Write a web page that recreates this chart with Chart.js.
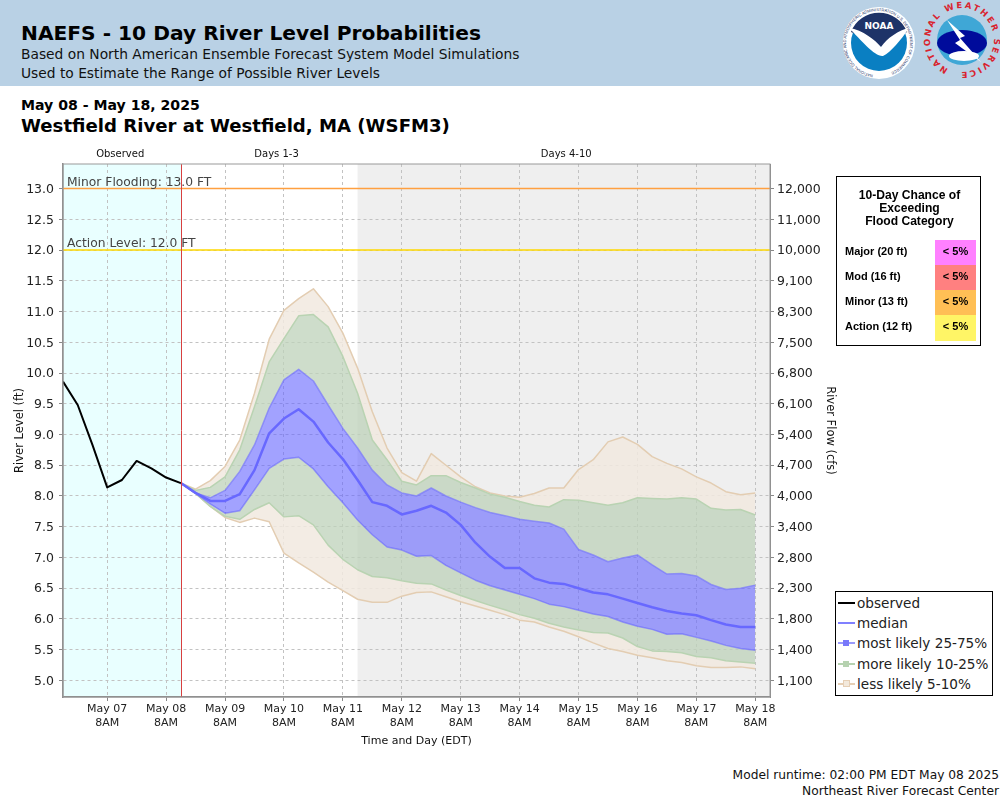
<!DOCTYPE html>
<html><head><meta charset="utf-8">
<script src="https://cdn.jsdelivr.net/npm/chart.js@4"></script>
<style>
html,body{margin:0;padding:0;background:#fff;font-family:"DejaVu Sans",sans-serif;color:#000}
#wrap{position:relative;width:1000px;height:800px;overflow:hidden}
#hdr{position:absolute;left:0;top:0;width:1000px;height:86px;background:#B9D1E5}
.t{position:absolute;white-space:nowrap}
canvas{position:absolute;left:0;top:0}
#prob{position:absolute;left:836px;top:176px;width:143px;height:168px;border:1px solid #000;background:#fff;font-family:"Liberation Sans",sans-serif;font-weight:bold;font-size:11.5px}
#prob .h{position:absolute;left:0;width:145px;text-align:center;font-size:12.1px;line-height:13px;top:12px}
#prob .r{position:absolute;left:8px;white-space:nowrap;font-size:11px}
#prob .c{position:absolute;left:98px;width:41px;height:25px;text-align:center;line-height:22px;font-size:11px}
#leg{position:absolute;left:835px;top:591px;width:156px;height:103px;border:1px solid #000;background:#fff;font-size:13.6px;color:#222}
#leg .l{position:absolute;left:21px;white-space:nowrap;line-height:20px}
#leg .s{position:absolute;left:2px;width:17px;height:2px}
#leg .b{position:absolute;left:7px;width:6px;height:6px}
</style></head><body>
<div id="wrap">
<div id="hdr"></div>
<div class="t" style="left:21px;top:21px;font-weight:bold;font-size:20.2px">NAEFS - 10 Day River Level Probabilities</div>
<div class="t" style="left:21px;top:46px;font-size:13.8px;color:#111">Based on North American Ensemble Forecast System Model Simulations</div>
<div class="t" style="left:21px;top:65px;font-size:13.8px;color:#111">Used to Estimate the Range of Possible River Levels</div>
<div class="t" style="left:21px;top:97px;font-weight:bold;font-size:14.1px">May 08 - May 18, 2025</div>
<div class="t" style="left:21px;top:115px;font-weight:bold;font-size:18.13px">Westfield River at Westfield, MA (WSFM3)</div>
<div class="t" style="right:1px;top:768px;font-size:12.25px;color:#111">Model runtime: 02:00 PM EDT May 08 2025</div>
<div class="t" style="right:1px;top:784px;font-size:12.25px;color:#111">Northeast River Forecast Center</div>
<svg style="position:absolute;left:835px;top:0" width="165" height="85" viewBox="0 0 165 85">
<defs><path id="ring1" d="M43 75 A32 32 0 1 1 43.1 75"/><path id="ring2" d="M127 72 A32 32 0 1 1 127.1 72"/></defs>
<circle cx="44" cy="43" r="36" fill="#fff"/>
<circle cx="44" cy="43" r="28" fill="#0A7FC2"/>
<path d="M16 32 A30 30 0 0 1 72 32 L46 47 C36 41 26 36 16 32Z" fill="#1E3368"/>
<path d="M14 28 C28 30 40 40 46 47 C52 38 64 30 74 28 C66 40 56 52 48 56 C40 57 26 40 14 28Z" fill="#fff"/>
<text x="44" y="29" text-anchor="middle" font-size="9" font-weight="bold" fill="#fff" font-family="DejaVu Sans">NOAA</text>
<text font-size="4" fill="#1E3368" font-family="Liberation Sans"><textPath href="#ring1" startOffset="5">NATIONAL OCEANIC AND ATMOSPHERIC ADMINISTRATION U.S. DEPARTMENT OF COMMERCE</textPath></text>
<circle cx="127" cy="40" r="25" fill="#3FA7D6"/>
<ellipse cx="127" cy="43" rx="25" ry="13" fill="#000B9B"/>
<ellipse cx="129" cy="56" rx="15" ry="5" fill="#fff"/>
<path d="M112 20 L130 36 L125 38 L146 62 L120 43 L125 40 Z" fill="#fff"/>
<text font-size="8.5" font-weight="bold" fill="#D9232E" font-family="DejaVu Sans" letter-spacing="2"><textPath href="#ring2" startOffset="14">NATIONAL WEATHER SERVICE</textPath></text>
</svg>
<canvas id="c" width="1000" height="800"></canvas>
<div id="prob">
<div class="h">10-Day Chance of<br>Exceeding<br>Flood Category</div>
<div class="r" style="top:68px">Major (20 ft)</div><div class="c" style="top:63px;background:#FF80FF">&lt; 5%</div>
<div class="r" style="top:93px">Mod (16 ft)</div><div class="c" style="top:88px;background:#FF8080">&lt; 5%</div>
<div class="r" style="top:118px">Minor (13 ft)</div><div class="c" style="top:113px;background:#FFBF55">&lt; 5%</div>
<div class="r" style="top:143px">Action (12 ft)</div><div class="c" style="top:138px;background:#FFF566;height:26px">&lt; 5%</div>
</div>
<div id="leg">
<div class="s" style="top:10px;background:#000"></div><div class="l" style="top:1px">observed</div>
<div class="s" style="top:30px;background:#8080FF"></div><div class="l" style="top:21px">median</div>
<div class="s" style="top:50px;background:#9a9afc"></div><div class="b" style="top:48px;background:#7878FA"></div><div class="l" style="top:41px">most likely 25-75%</div>
<div class="s" style="top:71px;background:#b6d2b0"></div><div class="b" style="top:69px;background:#b6d2b0"></div><div class="l" style="top:62px">more likely 10-25%</div>
<div class="s" style="top:91px;background:#e6cfb5"></div><div class="b" style="top:88px;background:#f3e9dc;border:1px solid #e6cfb5;width:5px;height:5px"></div><div class="l" style="top:82px">less likely 5-10%</div>
</div>
</div>
<script>
// Hours counted from May 06 2PM
const observedHours=[0,6,12,18,24,30,36,42,48];
const observedLevel=[9.86,9.48,8.83,8.14,8.26,8.57,8.45,8.30,8.21];
const forecastStartHour=48, forecastStepHours=6;
const median=[8.21,8.05,7.92,7.92,8.03,8.42,9.02,9.26,9.41,9.21,8.87,8.60,8.26,7.90,7.84,7.70,7.76,7.84,7.73,7.53,7.24,7.01,6.83,6.83,6.66,6.59,6.57,6.50,6.43,6.40,6.33,6.26,6.19,6.13,6.09,6.06,5.98,5.91,5.87,5.87];
const p75=[8.21,8.05,7.97,8.09,8.40,8.83,9.43,9.89,10.06,9.87,9.48,9.10,8.78,8.42,8.18,8.05,8.00,8.13,8.00,7.90,7.81,7.73,7.68,7.62,7.59,7.56,7.46,7.13,7.04,6.93,6.99,7.04,6.88,6.73,6.74,6.70,6.56,6.48,6.50,6.55];
const p25=[8.21,8.04,7.87,7.72,7.76,8.10,8.45,8.60,8.63,8.44,8.15,7.89,7.61,7.37,7.17,7.12,7.02,7.03,6.87,6.75,6.63,6.54,6.47,6.40,6.33,6.24,6.20,6.14,6.08,6.04,5.95,5.88,5.83,5.75,5.76,5.70,5.64,5.57,5.52,5.49];
const p90=[8.21,8.09,8.14,8.31,8.75,9.45,10.18,10.56,10.93,10.95,10.75,10.27,9.67,8.91,8.59,8.24,8.18,8.33,8.33,8.22,8.13,8.03,7.98,7.91,7.85,7.82,7.94,7.93,7.89,7.85,7.89,7.97,7.96,7.95,7.97,7.95,7.80,7.77,7.78,7.69];
const p10=[8.21,8.04,7.83,7.67,7.62,7.78,7.89,7.66,7.68,7.53,7.20,6.97,6.80,6.69,6.67,6.62,6.58,6.57,6.47,6.38,6.30,6.22,6.15,6.07,6.01,5.93,5.87,5.82,5.78,5.77,5.69,5.55,5.48,5.47,5.45,5.39,5.37,5.32,5.30,5.28];
const p95=[8.21,8.11,8.25,8.48,8.91,9.67,10.55,11.02,11.21,11.37,11.08,10.65,10.08,9.37,8.78,8.38,8.24,8.69,8.50,8.31,8.15,8.05,8.00,7.98,8.04,8.13,8.13,8.43,8.59,8.88,8.96,8.84,8.64,8.53,8.44,8.31,8.21,8.07,8.02,8.05];
const p5=[8.21,8.04,7.83,7.65,7.57,7.64,7.58,7.07,6.91,6.76,6.60,6.46,6.32,6.27,6.27,6.37,6.43,6.44,6.36,6.28,6.21,6.14,6.07,5.98,5.95,5.87,5.80,5.71,5.61,5.52,5.47,5.41,5.37,5.32,5.29,5.24,5.21,5.21,5.22,5.19];
const flowLabels={"13":"12,000","12.5":"11,000","12":"10,000","11.5":"9,100","11":"8,300","10.5":"7,500","10":"6,800","9.5":"6,100","9":"5,400","8.5":"4,700","8":"4,000","7.5":"3,400","7":"2,800","6.5":"2,300","6":"1,800","5.5":"1,400","5":"1,100"};
const stageTicks=[5,5.5,6,6.5,7,7.5,8,8.5,9,9.5,10,10.5,11,11.5,12,12.5,13];
const dayLabels=["May 07","May 08","May 09","May 10","May 11","May 12","May 13","May 14","May 15","May 16","May 17","May 18"];
const dayTickHours=[18,42,66,90,114,138,162,186,210,234,258,282];
const timeLabel="8AM";
const minorLevel=13, actionLevel=12;
const minorText="Minor Flooding: 13.0 FT", actionText="Action Level: 12.0 FT";
const periodLabels=[["Observed",23.3],["Days 1-3",87],["Days 4-10",205]];
const observedEndHour=48, days4StartHour=120, xMin=0, xMax=288, yMin=4.73, yMax=13.4;

const fcst=a=>a.map((v,i)=>({x:forecastStartHour+i*forecastStepHours,y:v}));
const flat=v=>[{x:xMin,y:v},{x:xMax,y:v}];
const line=(label,data,color,width,fill,bg)=>({label,data,borderColor:color,borderWidth:width,pointRadius:0,tension:0,fill:fill===undefined?false:{target:fill},backgroundColor:bg||'transparent',borderJoinStyle:'round'});
const BLUE='rgba(100,100,255,0.6)',GREEN='rgba(190,210,185,0.75)',TAN='rgba(241,233,223,0.85)';
const GRID='#C2C2C2';
const bgPlugin={id:'bg',
 beforeDraw(ch){const {ctx,chartArea:a,scales:{x}}=ch;ctx.save();
  ctx.fillStyle='#E9FFFF';ctx.fillRect(a.left,a.top,x.getPixelForValue(observedEndHour)-a.left,a.height);
  ctx.fillStyle='#EFEFEF';const g=x.getPixelForValue(days4StartHour);ctx.fillRect(g,a.top,a.right-g,a.height);ctx.restore();},
 afterDatasetsDraw(ch){const {ctx,chartArea:a,scales:{x,y}}=ch;ctx.save();
  const vx=Math.round(x.getPixelForValue(observedEndHour))+0.5;
  ctx.strokeStyle='#D84040';ctx.lineWidth=1;ctx.beginPath();ctx.moveTo(vx,a.top);ctx.lineTo(vx,a.bottom);ctx.stroke();
  ctx.strokeStyle='#999';ctx.lineWidth=1;ctx.strokeRect(a.left,a.top,a.width,a.height);
  ctx.fillStyle='#444';ctx.font='12.3px "DejaVu Sans"';ctx.textAlign='left';ctx.textBaseline='alphabetic';
  ctx.fillText(minorText,a.left+4,y.getPixelForValue(minorLevel)-3);
  ctx.fillText(actionText,a.left+4,y.getPixelForValue(actionLevel)-3);
  ctx.fillStyle='#111';ctx.font='10px "DejaVu Sans"';ctx.textAlign='center';
  periodLabels.forEach(p=>ctx.fillText(p[0],x.getPixelForValue(p[1]),a.top-7));
  ctx.restore();}};
new Chart(document.getElementById('c'),{type:'line',plugins:[bgPlugin],
 data:{datasets:[
  line('observed',observedHours.map((h,i)=>({x:h,y:observedLevel[i]})),'#000',2),
  line('median',fcst(median),'#6868FF',2.5),
  line('p75',fcst(p75),'rgba(120,120,250,0.7)',1.5,3,BLUE),
  line('p25',fcst(p25),'rgba(120,120,250,0.7)',1.5),
  line('p90',fcst(p90),'#B9D3B2',1.5,2,GREEN),
  line('p10',fcst(p10),'#B9D3B2',1.5,3,GREEN),
  line('p95',fcst(p95),'#E3CDB2',1.5,4,TAN),
  line('p5',fcst(p5),'#E3CDB2',1.5,5,TAN),
  line('minor',flat(minorLevel),'#FFA040',1.5),
  line('action',flat(actionLevel),'#FFD800',1.5)
 ]},
 options:{responsive:false,animation:false,devicePixelRatio:1,
  layout:{padding:{left:0,right:163,top:164,bottom:52}},
  plugins:{legend:{display:false},tooltip:{enabled:false}},
  scales:{
   x:{type:'linear',min:xMin,max:xMax,
    afterBuildTicks(s){s.ticks=dayTickHours.map(v=>({value:v}));},
    afterFit(s){s.height=51;},
    ticks:{autoSkip:false,maxRotation:0,font:{size:11,family:'DejaVu Sans'},color:'#222',padding:2,
     callback(v){const i=dayTickHours.indexOf(v);return i<0?'':[dayLabels[i],timeLabel];}},
    grid:{color:GRID,tickColor:'#888',tickLength:4,lineWidth:1},
    border:{color:'#888',width:1.5,dash:[3,3]},
    title:{display:true,text:'Time and Day (EDT)',font:{size:11,family:'DejaVu Sans'},color:'#111',padding:0}},
   y:{type:'linear',position:'left',min:yMin,max:yMax,
    afterBuildTicks(s){s.ticks=stageTicks.map(v=>({value:v}));},
    afterFit(s){s.width=63;},
    ticks:{font:{size:12.5,family:'DejaVu Sans',lineHeight:'2px'},color:'#222',padding:5,callback(v){return ['',v.toFixed(1)];}},
    grid:{color:GRID,tickColor:'#888',tickLength:4},
    border:{color:'#888',width:1.5,dash:[3,3]},
    title:{display:true,text:'River Level (ft)',font:{size:11.5,family:'DejaVu Sans'},color:'#111',padding:{top:13,bottom:0}}},
   y2:{type:'linear',position:'right',min:yMin,max:yMax,
    afterBuildTicks(s){s.ticks=stageTicks.map(v=>({value:v}));},
    afterFit(s){s.width=67;},
    ticks:{font:{size:12.5,family:'DejaVu Sans',lineHeight:'2px'},color:'#222',padding:3,callback(v){return ['',flowLabels[String(v)]];}},
    grid:{drawOnChartArea:false,tickColor:'#888',tickLength:4},
    border:{color:'#888',width:1},
    title:{display:true,text:'River Flow (cfs)',font:{size:11.5,family:'DejaVu Sans'},color:'#111',padding:0}}
  }}});
</script>
</body></html>
